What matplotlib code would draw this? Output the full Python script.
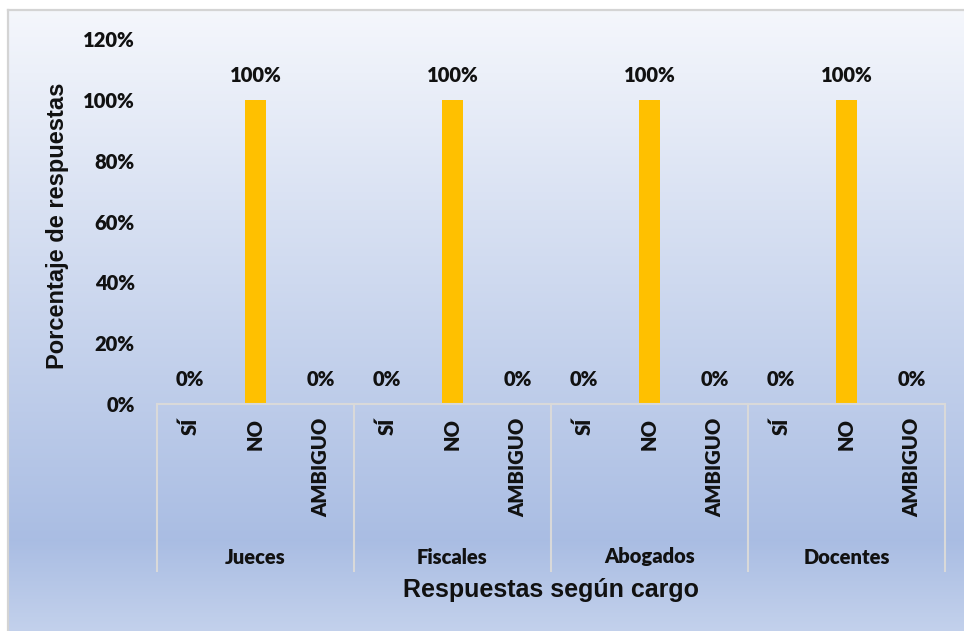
import numpy as np
import matplotlib
matplotlib.use("Agg")
import matplotlib.pyplot as plt
from matplotlib.transforms import blended_transform_factory

# ---- data ----
groups = ["Jueces", "Fiscales", "Abogados", "Docentes"]
answers = ["SÍ", "NO", "AMBIGUO"]
values = [
    [0, 100, 0],   # Jueces
    [0, 100, 0],   # Fiscales
    [0, 100, 0],   # Abogados
    [0, 100, 0],   # Docentes
]
yticks = [0, 20, 40, 60, 80, 100, 120]

W, H = 964, 631
fig = plt.figure(figsize=(W / 100, H / 100), dpi=100)
fig.patch.set_facecolor("white")

# background gradient panel (chart area), with thin grey border
bg = fig.add_axes([0, 0, 1, 1], zorder=0)
bg.set_axis_off()
ys = np.arange(H)
stops_y = [0, 10, 540, 631]
cols = np.array([[0.965, 0.972, 0.988], [0.960, 0.968, 0.988],
                 [0.665, 0.741, 0.890], [0.765, 0.820, 0.925]])
grad = np.stack([np.interp(ys, stops_y, cols[:, k]) for k in range(3)], axis=1)
img = np.repeat(grad[:, None, :], W, axis=1)
img[:9, :, :] = 1.0
img[:, :7, :] = 1.0
bg.imshow(img, extent=[0, W, H, 0], aspect="auto", interpolation="bilinear")
bg.plot([7.5, W], [9.5, 9.5], color="#d4d4d4", lw=1.6)
bg.plot([7.5, 7.5], [9.5, H], color="#d4d4d4", lw=1.6)
bg.set_xlim(0, W)
bg.set_ylim(H, 0)

# main axes: plot area from x=157..945, y(0%)=404, y(120%)=39
x0, x1, yb, yt = 157, 945, 404, 39
ax = fig.add_axes([x0 / W, (H - yb) / H, (x1 - x0) / W, (yb - yt) / H], zorder=2)
ax.patch.set_alpha(0)

n = len(answers)
xs = np.arange(len(groups) * n)
flat = [v for g in values for v in g]
labels = answers * len(groups)

ax.bar(xs, flat, width=0.32, color="#FFC000", zorder=3)
ax.set_xlim(-0.5, len(xs) - 0.5)
ax.set_ylim(0, 120)

for s in ["top", "right", "left", "bottom"]:
    ax.spines[s].set_visible(False)

fs = 14.5
tick_font = dict(family=["Lato", "DejaVu Sans"], weight="heavy", color="#111111")
ax.set_yticks(yticks)
ax.set_yticklabels([f"{t}%" for t in yticks], fontsize=fs, **tick_font)
ax.tick_params(axis="y", length=0, pad=16)
ax.set_xticks(xs)
ax.set_xticklabels(labels, rotation=90, va="top", ha="center", fontsize=fs, **tick_font)
ax.tick_params(axis="x", length=0, pad=10)

# data labels
for x, v in zip(xs, flat):
    ax.annotate(f"{v}%", (x, v), xytext=(0, 17.5), textcoords="offset points",
                ha="center", va="center", fontsize=fs, **tick_font)

# category axis lines
line_c = "#d9d9d9"
tr = blended_transform_factory(ax.transData, fig.transFigure)
ax.plot([-0.5, len(xs) - 0.5], [(H - yb) / H] * 2, color=line_c, lw=1.5,
        transform=tr, clip_on=False, zorder=4)
for b in np.arange(len(groups) + 1) * n - 0.5:
    ax.plot([b, b], [(H - yb) / H, (H - 571) / H], color=line_c, lw=1.5,
            transform=tr, clip_on=False, zorder=4)
for i, g in enumerate(groups):
    ax.text(i * n + 1, (H - 557) / H, g, transform=tr, ha="center", va="center",
            fontsize=fs, **tick_font)

# axis titles
title_font = dict(weight="bold", family=["Liberation Sans", "DejaVu Sans"], color="#111111")
fig.text(551 / W, 1 - 590 / H, "Respuestas según cargo", ha="center", va="center",
         fontsize=18, **title_font)
fig.text(58 / W, 1 - 226 / H, "Porcentaje de respuestas", ha="center", va="center",
         rotation=90, fontsize=17, **title_font)

fig.savefig("out.png", dpi=100)
